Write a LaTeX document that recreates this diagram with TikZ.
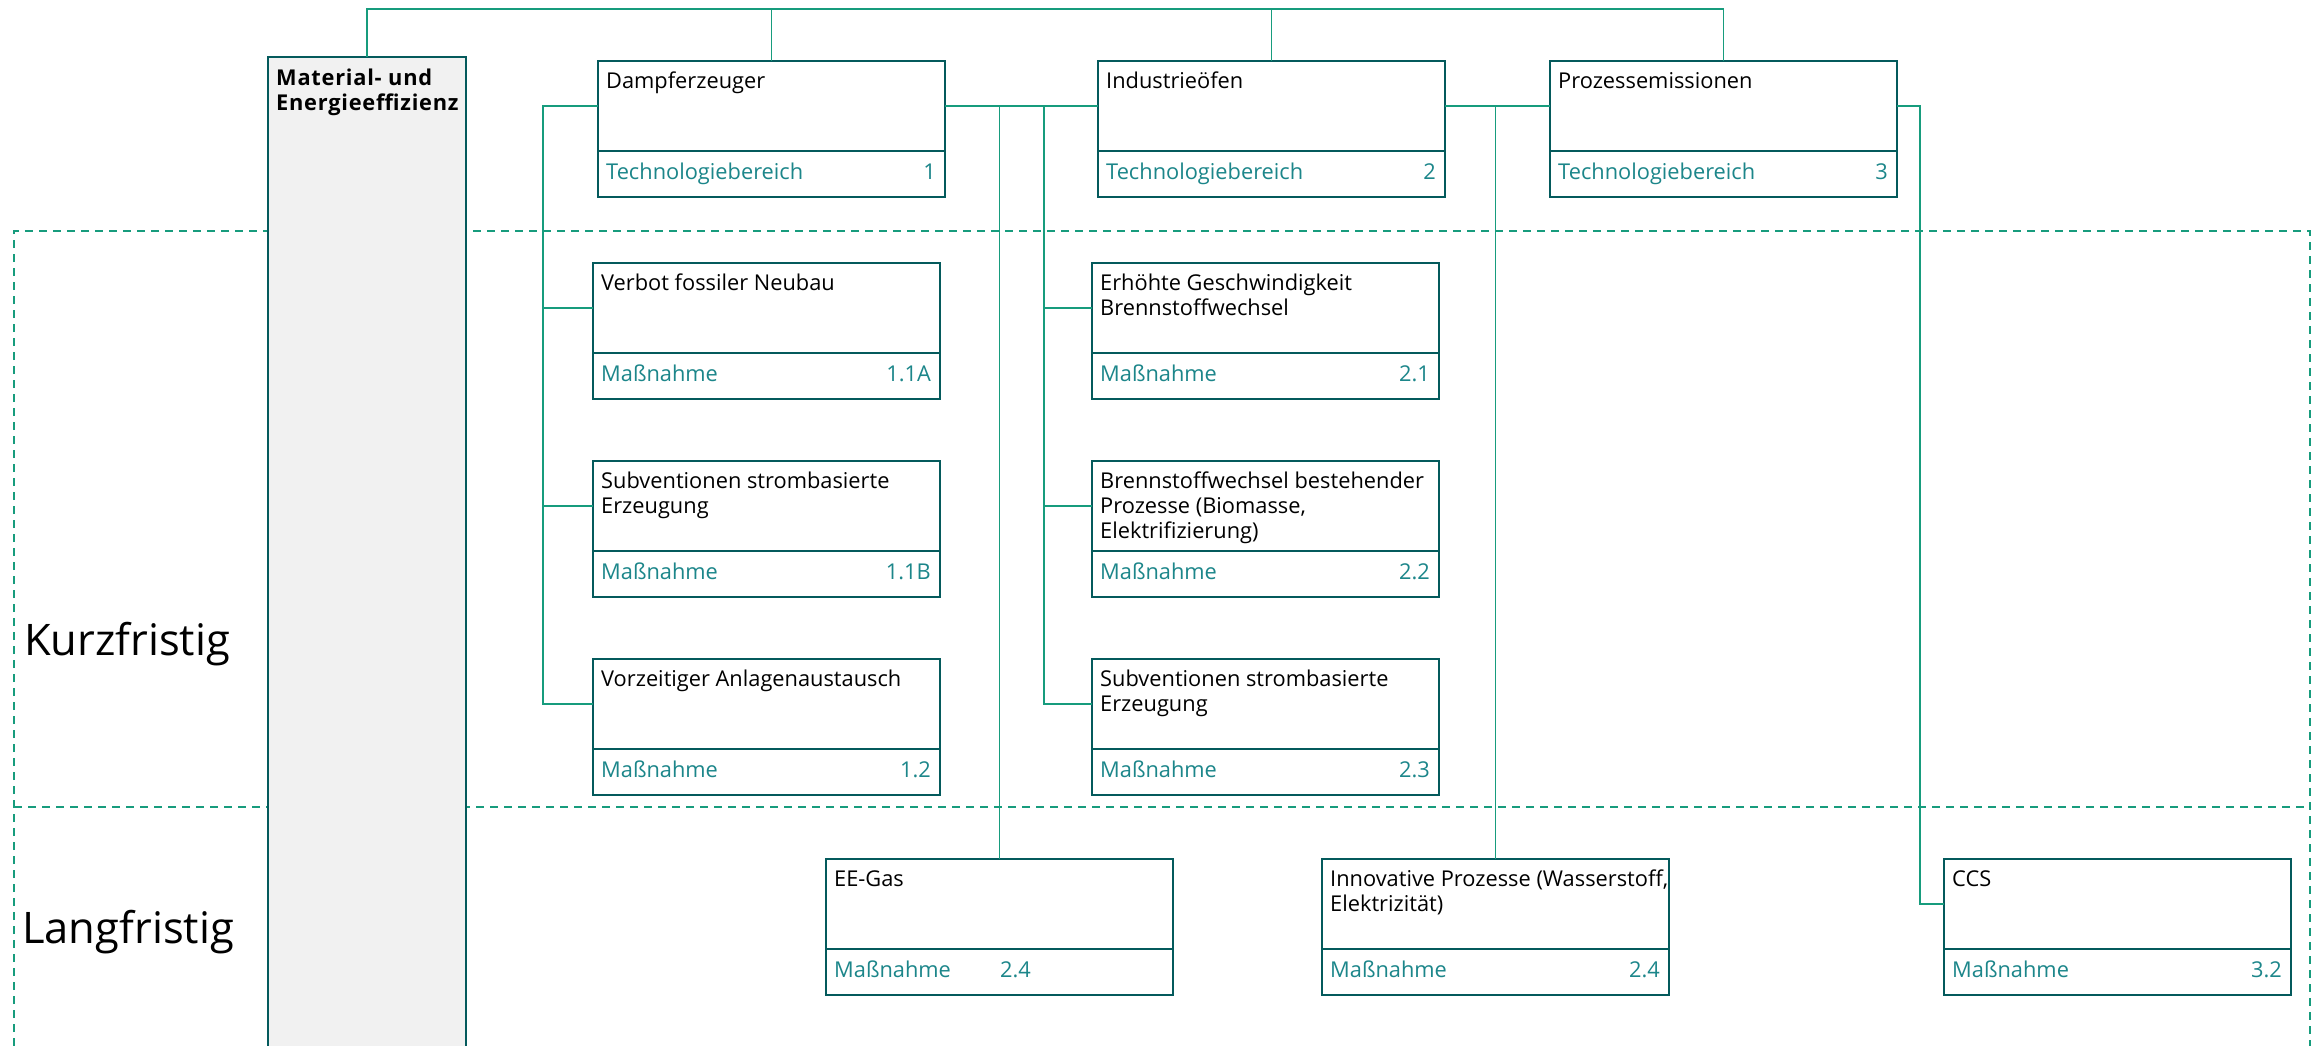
\documentclass[tikz,border=0pt]{standalone}
\usepackage{fontspec}
\setmainfont{Open Sans}
\definecolor{cgreen}{RGB}{23,156,125}
\definecolor{cborder}{RGB}{4,90,92}
\definecolor{clabel}{RGB}{28,134,138}
\definecolor{cgray}{RGB}{241,241,241}
\newcommand\BoxUnit[6]{%
  \node[upbox] (#1) at (#2,#3) {};
  \node[lowbox] (#1-l) at (#2,#3+90) {};
  \node[ttl] (#1-t) at (#2+8,#3+9.5) {\strut #4};
  \node[lbl] (#1-a) at (#2+8,#3+101) {\strut #5};
  \node[num] (#1-n) at (#2+338,#3+101) {\strut #6};
}
\begin{document}
\begin{tikzpicture}[x=1pt,y=-1pt,
  conn/.style={draw=cgreen, line width=1.8pt},
  frame/.style={draw=cgreen, line width=2pt, dash pattern=on 8pt off 6pt},
  upbox/.style={draw=cborder, line width=2pt, fill=white, rectangle, inner sep=0pt, outer sep=0pt, minimum width=347pt, minimum height=90pt, anchor=north west},
  lowbox/.style={draw=cborder, line width=2pt, fill=white, rectangle, inner sep=0pt, outer sep=0pt, minimum width=347pt, minimum height=46pt, anchor=north west},
  ttl/.style={anchor=north west, inner sep=0pt, align=left, font=\fontsize{21.8}{25}\selectfont, text=black},
  lbl/.style={anchor=north west, inner sep=0pt, font=\fontsize{21.8}{25}\selectfont, text=clabel},
  num/.style={anchor=north east, inner sep=0pt, font=\fontsize{21.8}{25}\selectfont, text=clabel},
  period/.style={anchor=base west, inner sep=0pt, font=\fontsize{43.5}{50}\selectfont, text=black}
]
\useasboundingbox (0,0) rectangle (2320,1046);
\clip (0,0) rectangle (2320,1046);
% dashed frame
\draw[frame] (14,1060) -- (14,231) -- (2310,231) -- (2310,1060);
\draw[frame] (14,807) -- (2310,807);
% nodes
\node[draw=cborder, line width=1.6pt, fill=cgray, rectangle, inner sep=0pt, outer sep=0pt, minimum width=198pt, minimum height=1100pt, anchor=north west] (mat) at (268,57) {};
\node[ttl, font=\fontsize{21.8}{25}\selectfont\bfseries\addfontfeatures{LetterSpace=3.5}] (mat-t) at (276,67.5) {\strut Material- und\\Energieeffizienz};

\BoxUnit{dampf}{598}{61}{Dampferzeuger}{Technologiebereich}{1}
\BoxUnit{ind}{1098}{61}{Industrieöfen}{Technologiebereich}{2}
\BoxUnit{proz}{1550}{61}{Prozessemissionen}{Technologiebereich}{3}

\BoxUnit{m11a}{593}{263}{Verbot fossiler Neubau}{Maßnahme}{1.1A}
\BoxUnit{m11b}{593}{461}{Subventionen strombasierte\\Erzeugung}{Maßnahme}{1.1B}
\BoxUnit{m12}{593}{659}{Vorzeitiger Anlagenaustausch}{Maßnahme}{1.2}

\BoxUnit{m21}{1092}{263}{Erhöhte Geschwindigkeit\\Brennstoffwechsel}{Maßnahme}{2.1}
\BoxUnit{m22}{1092}{461}{Brennstoffwechsel bestehender\\Prozesse (Biomasse,\\Elektrifizierung)}{Maßnahme}{2.2}
\BoxUnit{m23}{1092}{659}{Subventionen strombasierte\\Erzeugung}{Maßnahme}{2.3}

\BoxUnit{ee}{826}{859}{EE-Gas}{Maßnahme}{}
\node[lbl] (ee-n2) at (1000,960) {\strut 2.4};
\BoxUnit{inn}{1322}{859}{Innovative Prozesse (Wasserstoff,\\Elektrizität)}{Maßnahme}{2.4}
\BoxUnit{ccs}{1944}{859}{CCS}{Maßnahme}{3.2}

% connectors
\coordinate (top) at (0,9);
\coordinate (c1) at (543,0);
\coordinate (c2) at (1044,0);
\coordinate (c3) at (1920,0);
\draw[conn] (mat.north) |- (top -| proz.north) -- (proz.north);
\draw[conn] (dampf.north) -- (dampf.north |- top);
\draw[conn] (ind.north) -- (ind.north |- top);
\draw[conn] (dampf.west) -| (c1 |- m12.west) -- (m12.west);
\draw[conn] (c1 |- m11a.west) -- (m11a.west);
\draw[conn] (c1 |- m11b.west) -- (m11b.west);
\draw[conn] (dampf.east) -- (ind.west);
\draw[conn] (ee.north) -- (ee.north |- dampf.east);
\draw[conn] (c2 |- dampf.east) |- (m23.west);
\draw[conn] (c2 |- m21.west) -- (m21.west);
\draw[conn] (c2 |- m22.west) -- (m22.west);
\draw[conn] (ind.east) -- (proz.west);
\draw[conn] (inn.north) -- (inn.north |- ind.east);
\draw[conn] (proz.east) -| (c3 |- ccs.west) -- (ccs.west);

% period labels
\node[period] (kurz) at (24,655) {Kurzfristig};
\node[period] (lang) at (22,943) {Langfristig};
\end{tikzpicture}
\end{document}
